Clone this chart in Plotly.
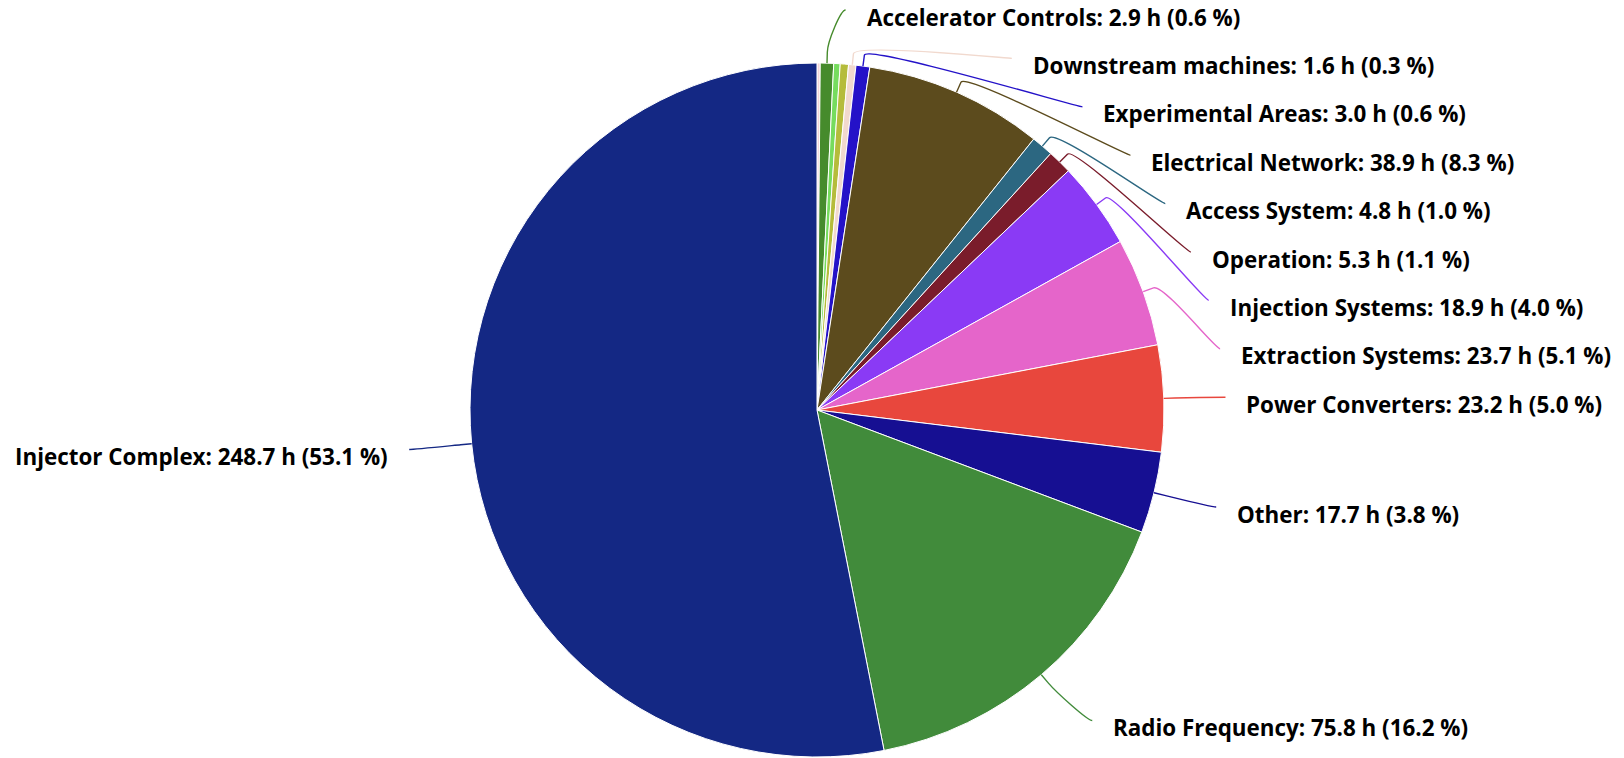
import math
import plotly.graph_objects as go

# ---------------- data ----------------
categories = ["Minor A", "Accelerator Controls", "Minor B", "Minor C", "Downstream machines",
              "Experimental Areas", "Electrical Network", "Access System", "Operation",
              "Injection Systems", "Extraction Systems", "Power Converters", "Other",
              "Radio Frequency", "Injector Complex"]
hours = [0.7, 2.9, 1.4, 1.8, 1.6, 3.0, 38.9, 4.8, 5.3, 18.9, 23.7, 23.2, 17.7, 75.8, 248.7]
show_label = [False, True, False, False, True, True, True, True, True, True, True, True, True, True, True]
colors = ["#F3D3D8", "#468B2C", "#76DC5E", "#B5BC3B", "#F1D9CE", "#2412C8", "#5C4B1D",
          "#2C6781", "#7A1C2B", "#8A3AF5", "#E565CA", "#E8473D", "#160F92", "#418B3B", "#142884"]

# ---------------- geometry ----------------
W, H = 1624, 758
cx, cy, r = 817, 410, 347
R_nat = 407          # radius of natural label anchors
R_x, cy_x = 409, 418 # ellipse used to place anchors horizontally
spacing = 48.4
top_bound, bottom_bound = 10, H - 10
text_gap = 19
text_dy = 7

total = sum(hours)
angles = []
acc = 0.0
for v in hours:
    angles.append((acc + v / 2) / total * 2 * math.pi)
    acc += v


def distribute(targets, s, lo, hi):
    order = sorted(range(len(targets)), key=lambda i: targets[i])
    groups = [[i] for i in order]

    def start_of(g):
        st = sum(targets[j] - k * s for k, j in enumerate(g)) / len(g)
        return min(max(st, lo), hi - (len(g) - 1) * s)

    changed = True
    while changed:
        changed = False
        for gi in range(len(groups) - 1):
            a, b = groups[gi], groups[gi + 1]
            if start_of(b) < start_of(a) + len(a) * s:
                groups[gi] = a + b
                del groups[gi + 1]
                changed = True
                break
    pos = {}
    for g in groups:
        st = start_of(g)
        for k, j in enumerate(g):
            pos[j] = st + k * s
    return pos


def px(x):
    return x / W


def py(y):
    return 1 - y / H


annotations = []
shapes = []
for side in (1, -1):
    idx = [i for i in range(len(hours)) if show_label[i] and ((math.sin(angles[i]) >= 0) == (side == 1))]
    targets = {i: cy - math.cos(angles[i]) * R_nat for i in idx}
    keys = list(targets.keys())
    pos_list = distribute([targets[k] for k in keys], spacing, top_bound, bottom_bound)
    for n, i in enumerate(keys):
        ly = pos_list[n]
        lx = cx + side * math.sqrt(max(0.0, R_x ** 2 - (ly - cy_x) ** 2))
        th = angles[i]
        tx, ty = cx + math.sin(th) * r, cy - math.cos(th) * r
        bx, by = cx + math.sin(th) * (r + 11), cy - math.cos(th) * (r + 11)
        c1x = lx - 5 * side
        c2x, c2y = 2 * bx - tx, 2 * by - ty
        path = (f"M {px(lx)},{py(ly)} C {px(c1x)},{py(ly)} {px(c2x)},{py(c2y)} {px(bx)},{py(by)} "
                f"L {px(tx)},{py(ty)}")
        shapes.append(dict(type="path", xref="paper", yref="paper", path=path,
                           line=dict(color=colors[i], width=1.4)))
        pct = hours[i] / total * 100
        annotations.append(dict(
            x=px(lx + side * text_gap), y=py(ly + text_dy), xref="paper", yref="paper",
            text=f"{categories[i]}: {hours[i]:.1f} h ({pct:.1f} %)",
            showarrow=False, xanchor="left" if side == 1 else "right", yanchor="middle",
            font=dict(family="Open Sans", size=22.4, color="#000000", weight="bold")))

fig = go.Figure(go.Pie(
    labels=categories, values=hours, sort=False, direction="clockwise", rotation=0,
    marker=dict(colors=colors, line=dict(color="#FFFFFF", width=1)),
    textinfo="none", hoverinfo="label+value+percent",
    domain=dict(x=[(cx - r) / W, (cx + r) / W], y=[(H - cy - r) / H, (H - cy + r) / H]),
))
fig.update_layout(
    width=W, height=H, margin=dict(l=0, r=0, t=0, b=0),
    paper_bgcolor="#FFFFFF", plot_bgcolor="#FFFFFF", showlegend=False,
    annotations=annotations, shapes=shapes,
)
fig.write_html("out.html")
